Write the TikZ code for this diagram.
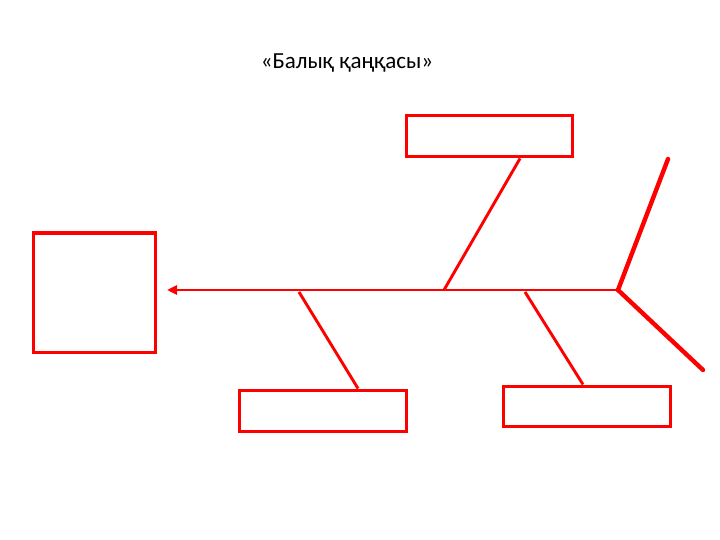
\documentclass[tikz,border=0pt]{standalone}
\usepackage{fontspec}
\setmainfont{Carlito}
\usetikzlibrary{arrows.meta}
\begin{document}
\begin{tikzpicture}[x=1pt,y=-1pt,
  box/.style={draw=red,line width=3pt,minimum width=#1,inner sep=0pt,fill=white},
  bone/.style={draw=red,line width=2.9pt},
  tailbone/.style={draw=red,line width=4.4pt,line cap=round}]
\useasboundingbox (0,0) rectangle (720,540);
\node[font=\fontsize{23}{26}\selectfont] (title) at (347,63) {«Балық қаңқасы»};
\node[box=122pt,minimum height=119pt] (head) at (94,292.5) {};
\node[box=166pt,minimum height=41pt] (top) at (489,136.5) {};
\node[box=167pt,minimum height=41pt] (bl) at (322.5,410.5) {};
\node[box=167pt,minimum height=40pt] (br) at (586.5,406) {};
\coordinate (tailjoint) at (618,290);
\coordinate (tipspine) at (167,290);
\coordinate (s1) at (444,290);
\coordinate (s2) at (299,292);
\coordinate (s3) at (525,292);
\coordinate (tailup) at (668,159);
\coordinate (taildown) at (703,370);
\draw[bone,-{Triangle[length=10pt,width=9pt]}] (tailjoint) -- (tipspine);
\draw[bone] (top.south -| 520,0) -- (s1);
\draw[bone] (s2) -- (bl.north -| 358,0);
\draw[bone] (s3) -- (br.north -| 583,0);
\draw[tailbone] (tailjoint) -- (tailup);
\draw[tailbone] (tailjoint) -- (taildown);
\end{tikzpicture}
\end{document}
